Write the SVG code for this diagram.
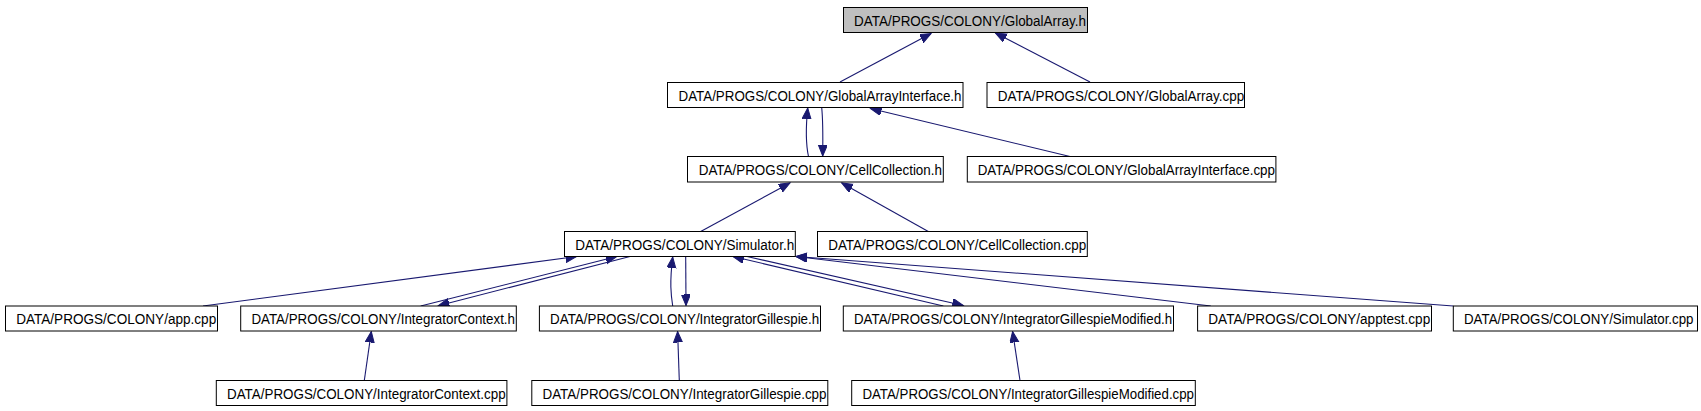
<svg xmlns="http://www.w3.org/2000/svg" width="1701" height="411" viewBox="0 0 1701 411">
<style>
.n rect{fill:#ffffff;stroke:#000000;stroke-width:1}
.n text{font-family:"Liberation Sans",Arial,sans-serif;font-size:14px;fill:#000000}
#n_globalarray_h rect{fill:#bfbfbf}
.e path{fill:none;stroke:#191970;stroke-width:1.1;marker-end:url(#ah)}
</style>
<defs>
<marker id="ah" markerWidth="14" markerHeight="12" refX="11" refY="4.5" orient="auto" markerUnits="userSpaceOnUse">
<path d="M0,0 L11,4.5 L0,9 z" fill="#191970" stroke="#191970" stroke-width="1"/>
</marker>
</defs>
<rect width="1701" height="411" fill="#ffffff"/>
<g class="e" id="edges">
<path d="M840,82 L931,33.5"/>
<path d="M1090,82 L995.5,33"/>
<path d="M808.5,156.5 C806,145 805.5,130 807.7,108"/>
<path d="M821.7,107.5 C823,120 823,135 822.7,156"/>
<path d="M1070,156.5 L870.5,108.5"/>
<path d="M700.7,231.5 L790,183"/>
<path d="M928.3,231.5 L841.7,183"/>
<path d="M203,306 L576.7,256.5"/>
<path d="M420.7,306 L616.7,256.5"/>
<path d="M630,256.5 L438.3,305.7"/>
<path d="M672.7,306 C671,295 669.5,283 672.7,257"/>
<path d="M685.7,257 L686,305.5"/>
<path d="M943.3,306 L733,256.5"/>
<path d="M747,256.5 L963.3,305.5"/>
<path d="M1210.8,306 L796,256.5"/>
<path d="M1453.3,306 L796,256.5"/>
<path d="M364.3,380.5 L371.3,331.5"/>
<path d="M679.3,380.5 L677.6,331.5"/>
<path d="M1020,380.5 L1012.6,331.5"/>
</g>
<g class="n" id="n_globalarray_h"><rect x="843.5" y="7.5" width="244" height="25"/><text x="854" y="25.5" textLength="232" lengthAdjust="spacingAndGlyphs">DATA/PROGS/COLONY/GlobalArray.h</text></g>
<g class="n" id="n_globalarrayinterface_h"><rect x="667.5" y="82.5" width="295.5" height="25"/><text x="678.5" y="100.5" textLength="283" lengthAdjust="spacingAndGlyphs">DATA/PROGS/COLONY/GlobalArrayInterface.h</text></g>
<g class="n" id="n_globalarray_cpp"><rect x="987" y="82.5" width="257.5" height="25"/><text x="997.7" y="100.5" textLength="246.5" lengthAdjust="spacingAndGlyphs">DATA/PROGS/COLONY/GlobalArray.cpp</text></g>
<g class="n" id="n_cellcollection_h"><rect x="687.5" y="156.5" width="255.8" height="25.5"/><text x="698.7" y="174.8" textLength="243.3" lengthAdjust="spacingAndGlyphs">DATA/PROGS/COLONY/CellCollection.h</text></g>
<g class="n" id="n_globalarrayinterface_cpp"><rect x="967.3" y="156.5" width="308.6" height="25.5"/><text x="977.7" y="174.8" textLength="297.3" lengthAdjust="spacingAndGlyphs">DATA/PROGS/COLONY/GlobalArrayInterface.cpp</text></g>
<g class="n" id="n_simulator_h"><rect x="564.5" y="231.5" width="230.8" height="25"/><text x="575.2" y="249.5" textLength="219" lengthAdjust="spacingAndGlyphs">DATA/PROGS/COLONY/Simulator.h</text></g>
<g class="n" id="n_cellcollection_cpp"><rect x="817.5" y="231.5" width="269.8" height="25"/><text x="828.2" y="249.5" textLength="258" lengthAdjust="spacingAndGlyphs">DATA/PROGS/COLONY/CellCollection.cpp</text></g>
<g class="n" id="n_app_cpp"><rect x="5.5" y="306" width="212" height="25"/><text x="16.2" y="324" textLength="200" lengthAdjust="spacingAndGlyphs">DATA/PROGS/COLONY/app.cpp</text></g>
<g class="n" id="n_integratorcontext_h"><rect x="240.7" y="306" width="275.6" height="25"/><text x="251.4" y="324" textLength="263.6" lengthAdjust="spacingAndGlyphs">DATA/PROGS/COLONY/IntegratorContext.h</text></g>
<g class="n" id="n_integratorgillespie_h"><rect x="539.4" y="306" width="281.1" height="25"/><text x="550.1" y="324" textLength="269.1" lengthAdjust="spacingAndGlyphs">DATA/PROGS/COLONY/IntegratorGillespie.h</text></g>
<g class="n" id="n_igm_h"><rect x="843.3" y="306" width="330.2" height="25"/><text x="854" y="324" textLength="318.2" lengthAdjust="spacingAndGlyphs">DATA/PROGS/COLONY/IntegratorGillespieModified.h</text></g>
<g class="n" id="n_apptest_cpp"><rect x="1197.6" y="306" width="233.9" height="25"/><text x="1208.3" y="324" textLength="221.9" lengthAdjust="spacingAndGlyphs">DATA/PROGS/COLONY/apptest.cpp</text></g>
<g class="n" id="n_simulator_cpp"><rect x="1453.3" y="306" width="244.2" height="25"/><text x="1464" y="324" textLength="229.5" lengthAdjust="spacingAndGlyphs">DATA/PROGS/COLONY/Simulator.cpp</text></g>
<g class="n" id="n_integratorcontext_cpp"><rect x="216.3" y="380.5" width="290.6" height="25"/><text x="227" y="398.5" textLength="278.6" lengthAdjust="spacingAndGlyphs">DATA/PROGS/COLONY/IntegratorContext.cpp</text></g>
<g class="n" id="n_integratorgillespie_cpp"><rect x="531.8" y="380.5" width="296" height="25"/><text x="542.5" y="398.5" textLength="284" lengthAdjust="spacingAndGlyphs">DATA/PROGS/COLONY/IntegratorGillespie.cpp</text></g>
<g class="n" id="n_igm_cpp"><rect x="851.7" y="380.5" width="343.6" height="25"/><text x="862.4" y="398.5" textLength="331.6" lengthAdjust="spacingAndGlyphs">DATA/PROGS/COLONY/IntegratorGillespieModified.cpp</text></g>
</svg>
